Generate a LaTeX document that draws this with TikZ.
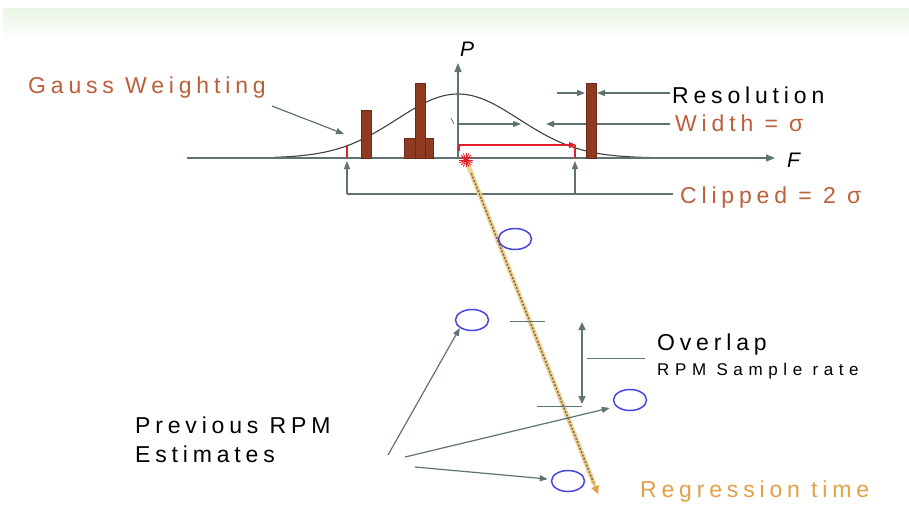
\documentclass[tikz,border=0pt]{standalone}
\usepackage{fontspec}
\setmainfont{Liberation Sans}
\newfontfamily\lbl[LetterSpace=21]{Liberation Sans}
\newfontfamily\lblw[LetterSpace=33]{Liberation Sans}
\usetikzlibrary{arrows.meta,shapes.geometric,calc}
\definecolor{axisgray}{HTML}{5F7373}
\definecolor{barbrown}{HTML}{8E3B22}
\definecolor{bardark}{HTML}{6A2A16}
\definecolor{lblorange}{HTML}{BC5F3C}
\definecolor{regorange}{HTML}{E3A045}
\definecolor{regline}{HTML}{F2D08E}
\definecolor{regdots}{HTML}{7A6A55}
\definecolor{circblue}{HTML}{4646DC}
\definecolor{clipred}{HTML}{E0202A}
\definecolor{bandgreen}{HTML}{E8F5E4}
\tikzset{
  ax/.style={draw=axisgray,line width=1.2pt},
  axarrow/.style={ax,-{Triangle[length=9pt,width=7pt]}},
  smarrow/.style={ax,-{Triangle[length=8pt,width=6pt]}},
  dblarrow/.style={ax,{Triangle[length=8pt,width=7pt]}-{Triangle[length=8pt,width=7pt]}},
  curve/.style={draw=black!75,line width=1.1pt},
  bar/.style={fill=barbrown,draw=bardark,line width=0.4pt},
  redline/.style={draw=clipred,line width=1.3pt},
  circ/.style={ellipse,draw=circblue,line width=1.5pt,minimum width=33pt,minimum height=21pt,inner sep=0pt},
  txt/.style={inner sep=0pt,anchor=base west,font=\lbl\fontsize{23}{27}\selectfont},
  otxt/.style={txt,text=lblorange},
}
\begin{document}
\begin{tikzpicture}[x=1pt,y=-1pt]
\useasboundingbox (0,0) rectangle (909,509);
\fill[white] (0,0) rectangle (909,509);
\shade[top color=bandgreen,bottom color=white] (3,8) rectangle (909,40);

% coordinates
\coordinate (o) at (458,158);
\coordinate (fend) at (775,158);
\coordinate (fstart) at (187,158);
\coordinate (ptop) at (458,63);
\coordinate (star) at (466,160);
\coordinate (regend) at (598,494);

% gaussian
\draw[curve] plot[domain=275:655,samples=120] (\x,{158-64*exp(-0.5*((\x-458)/61)^2)});

% axes
\draw[axarrow] (fstart) -- (fend);
\draw[axarrow] (o) -- (ptop);
\node[inner sep=0pt,anchor=base west,font=\itshape\fontsize{21}{25}\selectfont] (plab) at (460,56) {P};
\node[inner sep=0pt,anchor=base west,font=\itshape\fontsize{21}{25}\selectfont] (flab) at (787,167) {F};

% width arrows
\coordinate (w1) at (458,124);
\coordinate (w2) at (521,124);
\coordinate (w3) at (670,124);
\coordinate (w4) at (546,124);
\draw[smarrow] (w1) -- (w2);
\draw[smarrow] (w3) -- (w4);
\draw[ax,line width=0.8pt] (451,118) -- (454,124);

% resolution arrows
\coordinate (r1) at (557,93);
\coordinate (r2) at (585,93);
\coordinate (r3) at (670,93);
\coordinate (r4) at (597,93);
\draw[smarrow] (r1) -- (r2);
\draw[smarrow] (r3) -- (r4);

% bars
\draw[bar] (361,110) rectangle (371,158);
\draw[bar] (404,138) rectangle (415,158);
\draw[bar] (425,138) rectangle (433,158);
\draw[bar] (415,83) rectangle (425,158);
\draw[bar] (586,83) rectangle (596,158);

% red clip lines
\coordinate (rl1) at (459,145);
\coordinate (rl2) at (576,145);
\draw[redline,-{Triangle[length=7pt,width=6pt]}] (rl1) -- (rl2);
\draw[redline] (459,145) -- (459,151);
\draw[redline] (575,145) -- (575,158);
\draw[redline] (347,146) -- (347,158);

% clipped lines
\coordinate (cl1) at (347,194);
\coordinate (cl2) at (575,194);
\coordinate (cl3) at (673,194);
\draw[smarrow] (cl1) -- (347,161);
\draw[smarrow] (cl2) -- (575,161);
\draw[ax] (cl1) -- (cl3);

% gauss weighting arrow
\coordinate (g1) at (272,106);
\coordinate (g2) at (344,134);
\draw[smarrow] (g1) -- (g2);

% regression line
\draw[draw=regline,line width=4.5pt] (star) -- ($(star)!0.97!(regend)$);
\draw[draw=regdots,line width=1.5pt,dash pattern=on 2pt off 1.6pt] ($(star)!0.04!(regend)$) -- ($(star)!0.975!(regend)$);
\draw[draw=regorange,line width=1pt,-{Triangle[length=8pt,width=8pt]}] ($(star)!0.96!(regend)$) -- (regend);

% red star
\foreach \a in {0,22.5,...,337.5}{
  \draw[clipred,line width=0.9pt] (star) -- ++({7*cos(\a)},{7*sin(\a)});
}

% circles
\node[circ] (c1) at (515,239) {};
\node[circ] (c2) at (472,320) {};
\node[circ] (c3) at (630,400) {};
\node[circ] (c4) at (568,481) {};

% overlap
\coordinate (t1a) at (510,321);
\coordinate (t1b) at (545,321);
\coordinate (t2a) at (537,406);
\coordinate (t2b) at (582,406);
\draw[ax,line width=1pt] (t1a) -- (t1b);
\draw[ax,line width=1pt] (t2a) -- (t2b);
\draw[dblarrow] (582,322) -- (582,404);
\coordinate (ov1) at (587,358);
\coordinate (ov2) at (645,358);
\draw[ax,line width=1pt] (ov1) -- (ov2);

% previous estimates arrows
\coordinate (p1) at (388,455);
\coordinate (p2) at (405,457);
\coordinate (p3) at (415,467);
\draw[smarrow] (p1) -- (c2.south west);
\draw[smarrow] (p2) -- ($(c3.west)+(-3,8)$);
\draw[smarrow] (p3) -- ($(c4.west)+(-3,-2)$);

% labels
\node[otxt] (gw) at (28,93) {Gauss Weighting};
\node[txt] (res) at (672,103) {Resolution};
\node[otxt] (wid) at (675,131) {Width = σ};
\node[otxt] (clip) at (680,203) {Clipped = 2 σ};
\node[txt] (ovl) at (657,350) {Overlap};
\node[inner sep=0pt,anchor=base west,font=\lblw\fontsize{17}{20}\selectfont] (rpm) at (657,375) {RPM Sample rate};
\node[txt] (prev1) at (135,433) {Previous RPM};
\node[txt] (prev2) at (135,462) {Estimates};
\node[txt,text=regorange] (regt) at (640,497) {Regression time};
\end{tikzpicture}
\end{document}
